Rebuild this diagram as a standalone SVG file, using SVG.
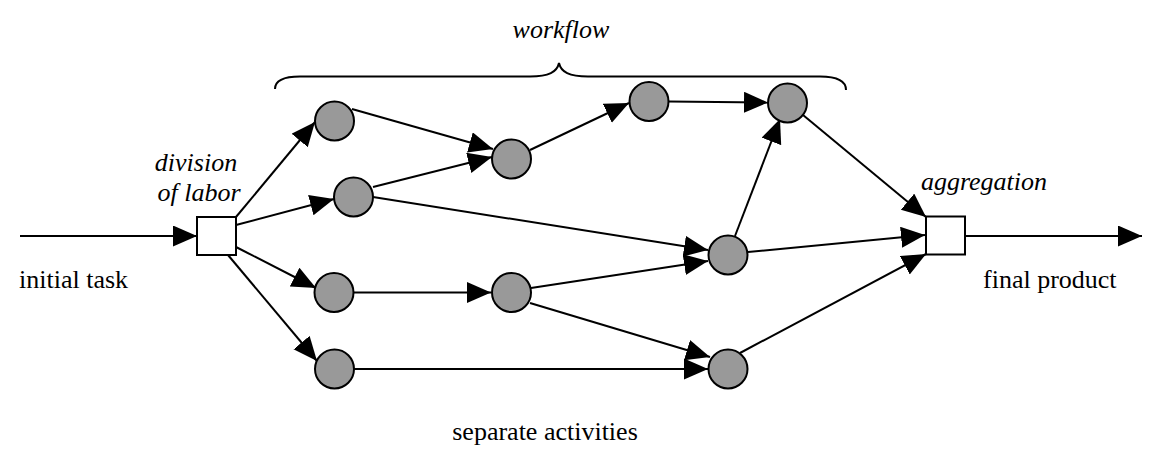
<svg xmlns="http://www.w3.org/2000/svg" width="1160" height="451" viewBox="0 0 1160 451">
<style>
  .it { font-style: italic; }
  .edge { stroke: #000; stroke-width: 2; fill: none; marker-end: url(#arr); }
  .act { fill: #999999; stroke: #000; stroke-width: 2; }
  .box { fill: #ffffff; stroke: #000; stroke-width: 2; }
</style>
<defs>
  <marker id="arr" markerUnits="userSpaceOnUse" markerWidth="25" markerHeight="22" refX="24" refY="10.5" orient="auto">
    <path d="M0,0 L24,10.5 L0,21 z" fill="#000"/>
  </marker>
</defs>
<rect width="1160" height="451" fill="#ffffff"/>

<g id="brace">
  <path d="M275,89 C275,81 283,76.5 300,76.5 L530,76.5 C549,76.5 557,72 559,63 C561,72 569,76.5 588,76.5 L820,76.5 C837,76.5 846,81 846,90" fill="none" stroke="#000" stroke-width="2"/>
</g>

<g id="connectors">
  <line class="edge" x1="20" y1="236" x2="197" y2="236"/>
  <line class="edge" x1="236" y1="217" x2="315" y2="122"/>
  <line class="edge" x1="236" y1="225" x2="334" y2="199"/>
  <line class="edge" x1="236" y1="247" x2="316" y2="288"/>
  <line class="edge" x1="228" y1="255" x2="317" y2="361"/>
  <line class="edge" x1="352" y1="109" x2="493" y2="149"/>
  <line class="edge" x1="373" y1="187" x2="492" y2="157"/>
  <line class="edge" x1="373" y1="197" x2="708" y2="250"/>
  <line class="edge" x1="530" y1="150" x2="629" y2="103"/>
  <line class="edge" x1="669" y1="101.5" x2="768" y2="102.5"/>
  <line class="edge" x1="354" y1="292.5" x2="491" y2="292.5"/>
  <line class="edge" x1="531" y1="288" x2="708" y2="261"/>
  <line class="edge" x1="530" y1="303" x2="710" y2="357"/>
  <line class="edge" x1="354" y1="369" x2="708" y2="369"/>
  <line class="edge" x1="735" y1="236" x2="780" y2="119"/>
  <line class="edge" x1="803" y1="115" x2="926" y2="217"/>
  <line class="edge" x1="748" y1="252" x2="925" y2="235"/>
  <line class="edge" x1="740" y1="353" x2="926" y2="254"/>
  <line class="edge" x1="965" y1="236" x2="1142" y2="236"/>
</g>

<g id="division"><rect class="box" x="197" y="217" width="39" height="38"/></g>
<g id="aggregation"><rect class="box" x="926" y="216.5" width="39" height="38"/></g>

<g id="a1"><circle class="act" cx="334.5" cy="121" r="19.5"/></g>
<g id="a2"><circle class="act" cx="353.5" cy="197" r="19.5"/></g>
<g id="a3"><circle class="act" cx="334" cy="292.5" r="19.5"/></g>
<g id="a4"><circle class="act" cx="334.5" cy="369" r="19.5"/></g>
<g id="a5"><circle class="act" cx="511.5" cy="159" r="19.5"/></g>
<g id="a6"><circle class="act" cx="511.5" cy="292.5" r="19.5"/></g>
<g id="a7"><circle class="act" cx="649" cy="101.5" r="19.5"/></g>
<g id="a8"><circle class="act" cx="787.5" cy="103" r="19.5"/></g>
<g id="a9"><circle class="act" cx="728" cy="255" r="19.5"/></g>
<g id="a10"><circle class="act" cx="728" cy="369" r="19.5"/></g>

<g id="labels" font-family="Liberation Serif, Times New Roman, serif" font-size="26" fill="#000">
  <text class="it" x="561" y="38" text-anchor="middle">workflow</text>
  <text class="it" x="196" y="171" text-anchor="middle">division</text>
  <text class="it" x="199" y="201" text-anchor="middle">of labor</text>
  <text class="it" x="984" y="190" text-anchor="middle">aggregation</text>
  <text x="19" y="288">initial task</text>
  <text x="983" y="288">final product</text>
  <text x="545" y="440" text-anchor="middle">separate activities</text>
</g>
</svg>
